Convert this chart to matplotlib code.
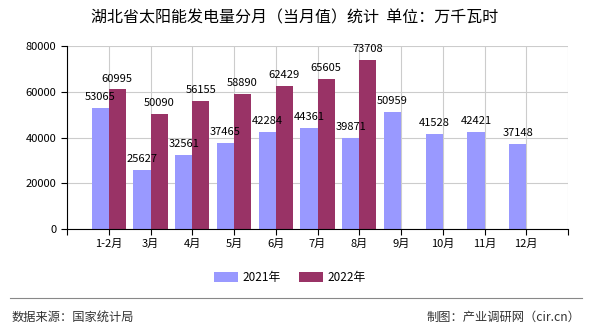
import numpy as np
import matplotlib
matplotlib.use('Agg')
import matplotlib.pyplot as plt

plt.rcParams['font.family'] = ['Noto Sans CJK SC', 'DejaVu Sans']

# data
months = ['1-2月', '3月', '4月', '5月', '6月', '7月', '8月', '9月', '10月', '11月', '12月']
values_2021 = [53065, 25627, 32561, 37465, 42284, 44361, 39871, 50959, 41528, 42421, 37148]
values_2022 = [60995, 50090, 56155, 58890, 62429, 65605, 73708]

c2021 = '#9999ff'
c2022 = '#993366'

fig = plt.figure(figsize=(5.9, 3.3), dpi=100)
ax = fig.add_axes([67 / 590, 101 / 330, 501 / 590, 183 / 330])

x = np.arange(len(months))
w = 0.41
b1 = ax.bar(x[:len(values_2021)] - w / 2, values_2021, w, color=c2021, label='2021年', zorder=2)
b2 = ax.bar(x[:len(values_2022)] + w / 2, values_2022, w, color=c2022, label='2022年', zorder=2)

for xi, v in zip(x, values_2021):
    ax.text(xi - w / 2, v + 2600, str(v), ha='center', va='bottom', fontsize=8, zorder=3)
for xi, v in zip(x, values_2022):
    ax.text(xi + w / 2, v + 2600, str(v), ha='center', va='bottom', fontsize=8, zorder=3)

ax.set_xlim(-1, len(months))
ax.set_ylim(0, 80000)
ax.set_yticks(range(0, 80001, 20000))
ax.set_xticks(np.arange(-1, len(months) + 1))
ax.set_xticklabels([''] + months + [''])
ax.tick_params(axis='both', labelsize=8, length=4, width=0.8, color='black')
ax.tick_params(axis='x', pad=3)
ax.grid(True, color='#cccccc', linewidth=0.8, zorder=0)
for s in ['top', 'right']:
    ax.spines[s].set_visible(False)
ax.spines['left'].set_linewidth(0.8)
ax.spines['bottom'].set_linewidth(0.8)

fig.text(0.5, 0.947, '湖北省太阳能发电量分月（当月值）统计  单位：万千瓦时',
         ha='center', va='center', fontsize=11.5)

fig.legend(handles=[b1, b2], loc='center', bbox_to_anchor=(0.4915, 0.16), ncol=2,
           frameon=False, fontsize=8.5, handlelength=2.0, handleheight=0.9,
           columnspacing=1.6, handletextpad=0.4)

fig.add_artist(plt.Line2D([10 / 590, 582 / 590], [1 - 298 / 330] * 2,
                          color='#888888', linewidth=0.8))
fig.text(12 / 590, 1 - 317 / 330, '数据来源：国家统计局', ha='left', va='center',
         fontsize=8.8, color='#333333')
fig.text(580 / 590, 1 - 317 / 330, '制图：产业调研网（cir.cn）', ha='right', va='center',
         fontsize=8.8, color='#333333')

fig.savefig('out.png', dpi=100)
